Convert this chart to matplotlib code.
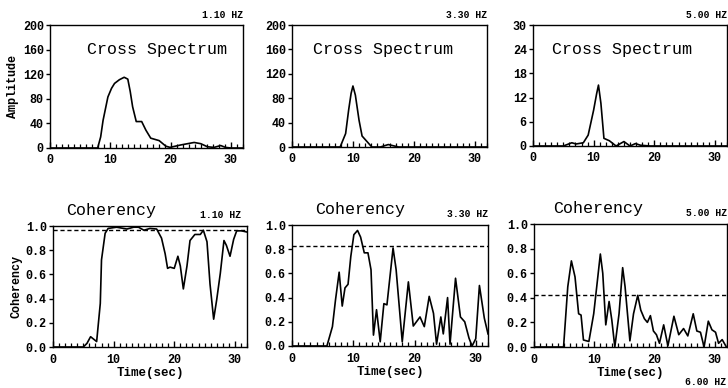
import matplotlib
matplotlib.use("Agg")
import matplotlib.pyplot as plt
from matplotlib.ticker import MultipleLocator

plt.rcParams['font.family'] = ['Liberation Mono', 'DejaVu Sans Mono']

# ---- data (time in sec) ----
# cross spectrum, 1.10 Hz
cs1_t = [0, 7.9, 8.4, 8.8, 9.6, 10.2, 10.7, 11.5, 12.3, 12.9, 13.3, 13.7, 14.3,
         15.2, 15.9, 16.7, 18.1, 19.2, 19.9, 21.7, 23.9, 25.0, 26.1, 27.2, 28.3,
         29.1, 30.0, 32.0]
cs1_v = [0, 0, 18, 45, 83, 97, 105, 111, 115, 112, 92, 67, 43,
         43, 29, 16, 12, 3, 1, 5, 9, 7, 2, 1, 4, 1, 0, 0]

# cross spectrum, 3.30 Hz
cs2_t = [0, 7.9, 8.8, 9.3, 9.7, 10.0, 10.4, 11.0, 11.5, 12.3, 13.1, 14.5, 15.8,
         17.5, 32.0]
cs2_v = [0, 0, 22, 61, 88, 100, 85, 44, 18, 9, 0, 0, 4, 0, 0]

# cross spectrum, 5.00 Hz
cs3_t = [0, 5.0, 6.4, 7.1, 8.3, 9.1, 10.0, 10.5, 10.8, 11.2, 11.7, 12.6, 13.7,
         15.0, 16.0, 16.9, 17.7, 19.3, 32.0]
cs3_v = [0, 0, 0.8, 0.5, 0.8, 2.7, 8.9, 13.0, 15.1, 10.6, 1.9, 1.3, 0,
         1.1, 0, 0.6, 0.2, 0, 0]

# coherency, 1.10 Hz
co1_t = [0, 5.0, 5.6, 6.2, 7.2, 7.8, 8.0, 8.6, 9.1, 10.5, 12.2, 13.3, 14.1, 15.0,
         16.0, 17.1, 17.9, 18.5, 18.9, 19.3, 20.0, 20.6, 21.0, 21.5, 22.1, 22.6,
         23.4, 24.3, 24.8, 25.4, 25.9, 26.5, 27.0, 27.6, 28.2, 28.6, 29.2, 29.8,
         30.3, 31.1, 32.0]
co1_v = [0, 0, 0.03, 0.085, 0.045, 0.36, 0.72, 0.94, 0.98, 0.99, 0.975, 0.99,
         0.99, 0.965, 0.98, 0.975, 0.9, 0.77, 0.65, 0.66, 0.65, 0.75, 0.67, 0.48,
         0.67, 0.88, 0.93, 0.93, 0.965, 0.87, 0.52, 0.23, 0.39, 0.61, 0.88, 0.84,
         0.75, 0.89, 0.96, 0.96, 0.95]

# coherency, 3.30 Hz
co2_t = [0, 5.7, 6.6, 7.1, 7.7, 8.2, 8.65, 9.15, 9.6, 10.1, 10.7, 11.2, 11.8,
         12.4, 12.9, 13.3, 13.8, 14.4, 15.0, 15.5, 16.5, 17.0, 18.0, 19.0, 19.8,
         20.9, 21.6, 22.4, 23.1, 23.6, 24.3, 24.7, 25.4, 25.8, 26.7, 27.5, 28.2,
         28.9, 29.4, 30.0, 30.6, 31.4, 32.0]
co2_v = [0, 0, 0.16, 0.38, 0.61, 0.33, 0.48, 0.51, 0.74, 0.92, 0.955, 0.9, 0.77,
         0.77, 0.63, 0.09, 0.30, 0.035, 0.35, 0.34, 0.81, 0.63, 0.035, 0.53, 0.165,
         0.24, 0.16, 0.41, 0.27, 0.015, 0.24, 0.10, 0.40, 0.015, 0.56, 0.24, 0.20,
         0.065, 0.0, 0.06, 0.50, 0.23, 0.10]

# coherency, 5.00 Hz
co3_t = [0, 4.9, 5.6, 6.2, 6.8, 7.4, 7.8, 8.2, 9.1, 9.9, 10.4, 11.0, 11.4, 11.9,
         12.45, 12.9, 13.4, 14.1, 14.7, 15.1, 15.9, 16.5, 17.2, 17.7, 18.3, 18.8,
         19.3, 19.8, 20.3, 20.8, 21.5, 22.2, 23.2, 24.0, 24.8, 25.5, 26.4, 27.0,
         27.6, 28.2, 28.9, 29.5, 30.1, 30.6, 31.2, 31.9]
co3_v = [0, 0, 0.49, 0.70, 0.57, 0.27, 0.26, 0.057, 0.045, 0.27, 0.49, 0.756,
         0.60, 0.18, 0.37, 0.22, 0.0, 0.27, 0.645, 0.49, 0.05, 0.27, 0.42, 0.30,
         0.23, 0.20, 0.255, 0.13, 0.10, 0.03, 0.18, 0.01, 0.25, 0.10, 0.15, 0.09,
         0.27, 0.13, 0.12, 0.0, 0.21, 0.14, 0.12, 0.03, 0.06, 0.0]

# significance levels (dashed)
levels = [0.965, 0.83, 0.425]

freqs = ['1.10 HZ', '3.30 HZ', '5.00 HZ']
cs_series = [(cs1_t, cs1_v), (cs2_t, cs2_v), (cs3_t, cs3_v)]
co_series = [(co1_t, co1_v), (co2_t, co2_v), (co3_t, co3_v)]
cs_ylims = [200, 200, 30]
cs_yticks = [[0, 40, 80, 120, 160, 200], [0, 40, 80, 120, 160, 200],
             [0, 6, 12, 18, 24, 30]]

W, H = 728, 388
fig = plt.figure(figsize=(W / 100, H / 100), dpi=100)


def px_axes(left, top, right, bottom):
    return fig.add_axes([left / W, 1 - bottom / H, (right - left) / W, (bottom - top) / H])


def style(ax, xpad):
    ax.set_xlim(0, 32)
    ax.xaxis.set_major_locator(MultipleLocator(10))
    ax.xaxis.set_minor_locator(MultipleLocator(1))
    ax.tick_params(axis='x', which='major', direction='in', length=4, width=1,
                   pad=xpad, labelsize=8.5)
    ax.tick_params(axis='x', which='minor', direction='in', length=3, width=0.9)
    ax.tick_params(axis='y', which='major', direction='out', length=3, width=1,
                   pad=1.5, labelsize=8.5)
    for lab in ax.get_xticklabels() + ax.get_yticklabels():
        lab.set_fontweight('bold')
    for sp in ax.spines.values():
        sp.set_linewidth(1.0)


top_boxes = [(50, 25, 243, 148), (292, 25, 487, 147), (533, 25, 727, 146)]
bot_boxes = [(53, 226, 247, 347), (292, 225, 488, 346), (534, 224, 727, 347)]
title_x = [0.19, 0.11, 0.10]
coh_x = [0.30, 0.35, 0.33]

for i in range(3):
    # cross spectrum row
    ax = px_axes(*top_boxes[i])
    t, v = cs_series[i]
    ax.plot(t, v, color='black', lw=1.2)
    ax.set_ylim(0, cs_ylims[i])
    ax.set_yticks(cs_yticks[i])
    style(ax, 4)
    ax.text(title_x[i], 0.80, 'Cross Spectrum', transform=ax.transAxes,
            fontsize=12, ha='left', va='center')
    ax.text(1.0, 1.04, freqs[i], transform=ax.transAxes, fontsize=7,
            fontweight='bold', ha='right', va='bottom')
    if i == 0:
        ax.set_ylabel('Amplitude', fontsize=8.5, fontweight='bold', labelpad=3)

    # coherency row
    ax = px_axes(*bot_boxes[i])
    t, v = co_series[i]
    ax.plot(t, v, color='black', lw=1.2)
    ax.axhline(levels[i], color='black', lw=1.0, ls=(0, (3, 2)))
    ax.set_ylim(0, 1.0)
    ax.set_yticks([0, 0.2, 0.4, 0.6, 0.8, 1.0])
    ax.set_yticklabels(['0.0', '0.2', '0.4', '0.6', '0.8', '1.0'])
    style(ax, 5)
    ax.set_xlabel('Time(sec)', fontsize=9, fontweight='bold', labelpad=1)
    ax.text(coh_x[i], 1.13, 'Coherency', transform=ax.transAxes,
            fontsize=12, ha='center', va='center')
    ax.text(1.0 if i else 0.97, 1.05, freqs[i], transform=ax.transAxes,
            fontsize=7, fontweight='bold', ha='right', va='bottom')
    if i == 0:
        ax.set_ylabel('Coherency', fontsize=8.5, fontweight='bold', labelpad=2)

# stray label at the bottom right corner
fig.text(726 / W, 1 / H, '6.00 HZ', fontsize=7, fontweight='bold',
         ha='right', va='bottom')

fig.savefig('out.png', dpi=100)
